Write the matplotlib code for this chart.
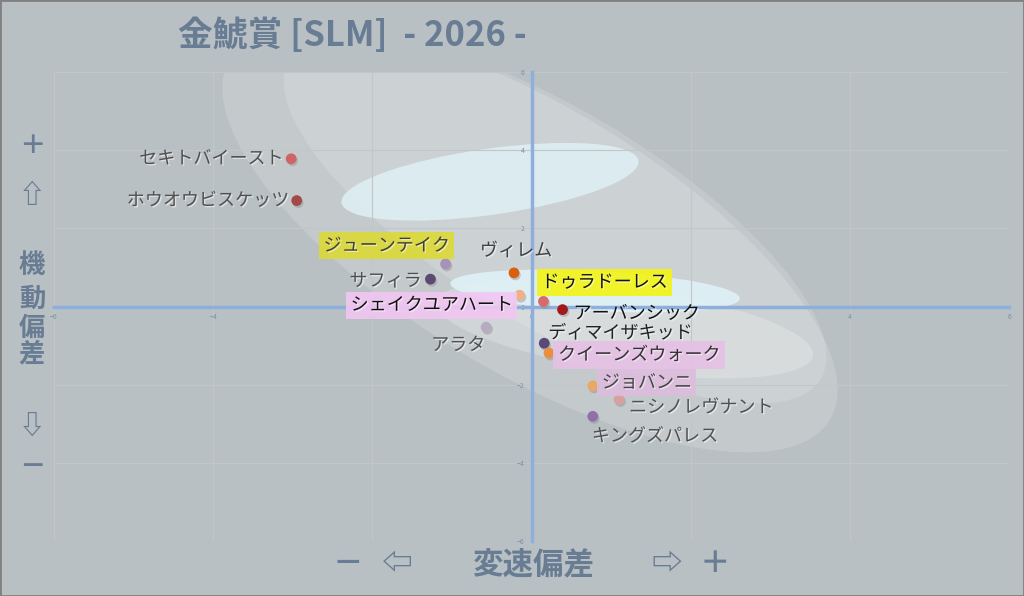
import matplotlib.pyplot as plt
import matplotlib.patheffects as pe
from matplotlib.patches import Ellipse, Rectangle
from matplotlib.transforms import Affine2D

plt.rcParams['font.family'] = ['Noto Sans CJK JP', 'DejaVu Sans']

# データ（変速偏差, 機動偏差）
horses = ["セキトバイースト", "ホウオウビスケッツ", "ジューンテイク", "サフィラ", "ヴィレム",
          "シェイクユアハート", "ドゥラドーレス", "アーバンシック", "アラタ", "ディマイザキッド",
          "クイーンズウォーク", "ジョバンニ", "ニシノレヴナント", "キングズパレス"]
speed_dev = [-3.02, -2.95, -1.08, -1.27, -0.22, -0.15, 0.15, 0.39, -0.57, 0.16, 0.22, 0.77, 1.10, 0.77]
mobility_dev = [3.78, 2.71, 1.09, 0.70, 0.86, 0.29, 0.13, -0.08, -0.53, -0.94, -1.19, -2.03, -2.38, -2.81]
dot_colors = ["#d06464", "#a24a48", "#a892b8", "#5c4a72", "#d8600e", "#f0b088", "#d86a6a",
              "#a01a1a", "#b8aac2", "#5a4878", "#e89040", "#e8a868", "#d8a0a0", "#9070a8"]
ticks = [-6, -4, -2, 0, 2, 4, 6]

# ラベルの位置・装飾
label_offset = [(-8, 0), (-8, 0), (-59, 18), (-9, -2), (2, 22), (-7, -10), (-2, 19),
                (11, -4), (-28, -18), (4, 10), (9, -2), (9, 3), (10, -8), (-1, -20)]
label_ha = ["right", "right", "center", "right", "center", "right", "left",
            "left", "center", "left", "left", "left", "left", "left"]
label_color = ["#505050", "#505050", "#404040", "#505050", "#404040", "#111111", "#111111",
               "#111111", "#505050", "#222222", "#333333", "#444444", "#505050", "#505050"]
label_box = [None, None, "#dcd936", None, None, "#f2c6f2", "#f4f414",
             None, None, None, "#e6c0e6", "#dcbcdc", None, None]

bg = "#b9c0c3"
title_c = "#687c94"

fig = plt.figure(figsize=(10.24, 5.96), dpi=100, facecolor=bg)
ax = fig.add_axes([54 / 1024, 1 - 541 / 596, 955 / 1024, 469 / 596])
ax.set_facecolor(bg)
ax.set_xlim(-6, 6)
ax.set_ylim(-6, 6)

# 背景の分布域（参照画像のピクセル座標で指定）
px = Affine2D().translate(-531.5, -307.5).scale(1 / 79.6, -1 / 39) + ax.transData
blobs = [
    ((530, 240), 700, 265, 31, "white", 0.16),
    ((555, 220), 620, 215, 31, "white", 0.14),
    ((490, 183), 300, 66, -8, "#dff0f6", 0.85),
    ((625, 330), 380, 84, 8, "white", 0.22),
    ((595, 292), 290, 40, 3, "#e0f3f9", 0.85),
]
for (c, w, h, ang, col, a) in blobs:
    ax.add_patch(Ellipse(c, w, h, angle=ang, facecolor=col, edgecolor="none",
                         alpha=a, transform=px, zorder=1))

ax.set_xticks(ticks)
ax.set_yticks(ticks)
ax.grid(True, color="#c0c6c9", lw=0.8, zorder=0)
for s in ["top", "right"]:
    ax.spines[s].set_visible(False)
for s in ["left", "bottom"]:
    ax.spines[s].set_position(("data", 0))
    ax.spines[s].set_color("#8eaedb")
    ax.spines[s].set_linewidth(2.5)
    ax.spines[s].set_zorder(2)
ax.tick_params(length=0, labelsize=5, labelcolor="#7d90a8", pad=5)

shadow = [pe.SimplePatchShadow(offset=(1, -1.5), shadow_rgbFace="#888888", alpha=0.4), pe.Normal()]
ax.scatter(speed_dev, mobility_dev, s=60, c=dot_colors, zorder=4, linewidths=0,
           path_effects=shadow)

for i, name in enumerate(horses):
    box = None
    if label_box[i]:
        box = dict(boxstyle="square,pad=0.25", facecolor=label_box[i], edgecolor="none", alpha=0.9)
    ax.annotate(name, (speed_dev[i], mobility_dev[i]), xytext=label_offset[i],
                textcoords="offset pixels", ha=label_ha[i], va="center",
                fontsize=13, color=label_color[i], bbox=box, zorder=5,
                path_effects=[pe.withSimplePatchShadow(offset=(1, -1), shadow_rgbFace="white", alpha=0.5)])

# タイトル
fig.text(178 / 1024, 1 - 35 / 596, "金鯱賞 [SLM]  - 2026 -", fontsize=25, fontweight="bold",
         color=title_c, ha="left", va="center")

# 縦軸ラベル
y_parts = [("＋", 147), ("⇧", 195), ("機", 265), ("動", 299), ("偏", 328), ("差", 354),
           ("⇩", 426), ("－", 467)]
for t, yy in y_parts:
    fig.text(32 / 1024, 1 - yy / 596, t, fontsize=19, fontweight="bold", color=title_c,
             ha="center", va="center")

# 横軸ラベル
x_parts = [("－", 348), ("⇦", 397), ("変速偏差", 533), ("⇨", 667), ("＋", 715)]
for t, xx in x_parts:
    fig.text(xx / 1024, 1 - 564 / 596, t, fontsize=22, fontweight="bold", color=title_c,
             ha="center", va="center")

fig.add_artist(Rectangle((0, 0), 1, 1, transform=fig.transFigure, fill=False,
                         edgecolor="#808080", lw=2))

fig.savefig("out.png", dpi=100, facecolor=bg)
